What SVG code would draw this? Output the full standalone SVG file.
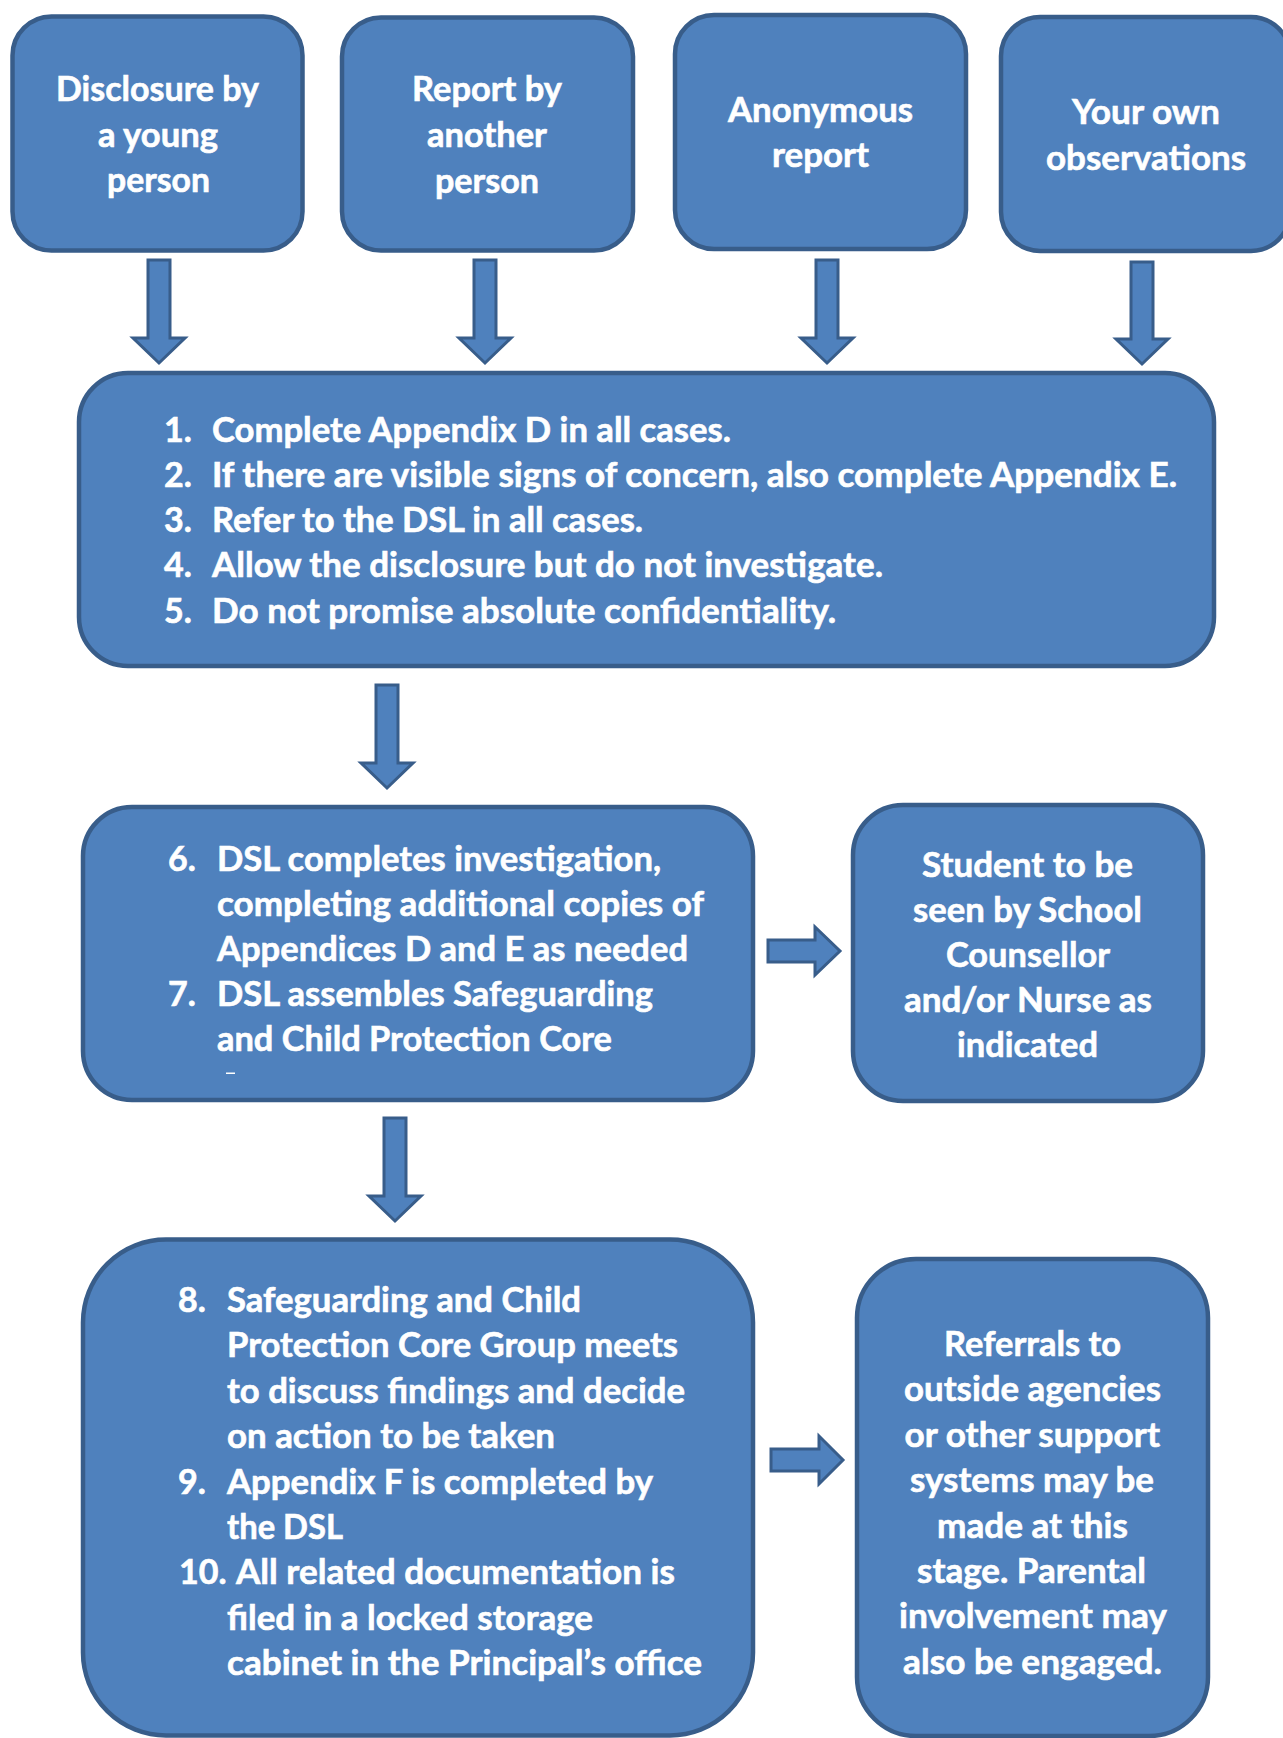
<svg xmlns="http://www.w3.org/2000/svg" width="1283" height="1738" viewBox="0 0 1283 1738">
<style>
.box{fill:#4F81BD;stroke:#385D8A;stroke-width:4.5}
.arr{fill:#4F81BD;stroke:#385D8A;stroke-width:3;stroke-linejoin:miter}
text{font-family:Lato,"Open Sans","Liberation Sans",sans-serif;font-weight:bold;font-size:34px;fill:#FFFFFF;stroke:#FFFFFF;stroke-width:0.6}
</style>
<rect width="1283" height="1738" fill="#FFFFFF"/>
<g id="connectors">
<path class="arr" d="M148,260 H170 V338 H185 L159,363 L133,338 H148 Z"/>
<path class="arr" d="M474,260 H496 V338 H511 L485,363 L459,338 H474 Z"/>
<path class="arr" d="M816,260 H838 V338 H853 L827,363 L801,338 H816 Z"/>
<path class="arr" d="M1131,262 H1153 V339 H1168 L1142,364 L1116,339 H1131 Z"/>
<path class="arr" d="M376,685 H398 V763 H413 L387,788 L361,763 H376 Z"/>
<path class="arr" d="M384,1118 H406 V1196 H421 L395,1221 L369,1196 H384 Z"/>
<path class="arr" d="M768,940 H815 V927 L840,951 L815,975 V962 H768 Z"/>
<path class="arr" d="M771,1449 H819 V1436 L843,1460 L819,1484 V1471 H771 Z"/>
</g>
<g id="n1">
<rect class="box" x="12.5" y="16.5" width="290" height="234" rx="39"/>
<text x="56" y="101" textLength="203" lengthAdjust="spacingAndGlyphs">Disclosure by</text>
<text x="98" y="147" textLength="120" lengthAdjust="spacingAndGlyphs">a young</text>
<text x="107" y="192" textLength="103" lengthAdjust="spacingAndGlyphs">person</text>
</g>
<g id="n2">
<rect class="box" x="342" y="17.5" width="291" height="233" rx="39"/>
<text x="412" y="101" textLength="150" lengthAdjust="spacingAndGlyphs">Report by</text>
<text x="427" y="147" textLength="120" lengthAdjust="spacingAndGlyphs">another</text>
<text x="435" y="193" textLength="104" lengthAdjust="spacingAndGlyphs">person</text>
</g>
<g id="n3">
<rect class="box" x="675" y="15" width="291" height="234" rx="39"/>
<text x="728" y="122" textLength="185" lengthAdjust="spacingAndGlyphs">Anonymous</text>
<text x="772" y="167" textLength="97" lengthAdjust="spacingAndGlyphs">report</text>
</g>
<g id="n4">
<rect class="box" x="1001" y="17" width="289" height="234" rx="39"/>
<text x="1072" y="124" textLength="148" lengthAdjust="spacingAndGlyphs">Your own</text>
<text x="1046" y="170" textLength="200" lengthAdjust="spacingAndGlyphs">observations</text>
</g>
<g id="n5">
<rect class="box" x="79" y="373" width="1135" height="293" rx="49"/>
<text x="164" y="442">1.</text>
<text x="212" y="442" textLength="519" lengthAdjust="spacingAndGlyphs">Complete Appendix D in all cases.</text>
<text x="164" y="487">2.</text>
<text x="212" y="487" textLength="965" lengthAdjust="spacingAndGlyphs">If there are visible signs of concern, also complete Appendix E.</text>
<text x="164" y="532">3.</text>
<text x="212" y="532" textLength="431" lengthAdjust="spacingAndGlyphs">Refer to the DSL in all cases.</text>
<text x="164" y="577">4.</text>
<text x="212" y="577" textLength="671" lengthAdjust="spacingAndGlyphs">Allow the disclosure but do not investigate.</text>
<text x="164" y="623">5.</text>
<text x="212" y="623" textLength="624" lengthAdjust="spacingAndGlyphs">Do not promise absolute confidentiality.</text>
</g>
<g id="n6">
<rect class="box" x="83" y="807" width="670" height="293" rx="49"/>
<text x="168" y="870.5">6.</text>
<text x="217" y="870.5" textLength="444" lengthAdjust="spacingAndGlyphs">DSL completes investigation,</text>
<text x="217" y="915.5" textLength="487" lengthAdjust="spacingAndGlyphs">completing additional copies of</text>
<text x="217" y="960.5" textLength="471" lengthAdjust="spacingAndGlyphs">Appendices D and E as needed</text>
<text x="168" y="1005.5">7.</text>
<text x="217" y="1005.5" textLength="436" lengthAdjust="spacingAndGlyphs">DSL assembles Safeguarding</text>
<text x="217" y="1050.5" textLength="395" lengthAdjust="spacingAndGlyphs">and Child Protection Core</text>
<rect x="226" y="1072.5" width="9" height="1.5" fill="#FFFFFF"/>
</g>
<g id="n7">
<rect class="box" x="853" y="805" width="350" height="296" rx="50"/>
<text x="922" y="877" textLength="211" lengthAdjust="spacingAndGlyphs">Student to be</text>
<text x="913" y="922" textLength="229" lengthAdjust="spacingAndGlyphs">seen by School</text>
<text x="946" y="967" textLength="164" lengthAdjust="spacingAndGlyphs">Counsellor</text>
<text x="904" y="1012" textLength="248" lengthAdjust="spacingAndGlyphs">and/or Nurse as</text>
<text x="957" y="1057" textLength="141" lengthAdjust="spacingAndGlyphs">indicated</text>
</g>
<g id="n8">
<rect class="box" x="83" y="1239.5" width="670" height="496" rx="83"/>
<text x="178" y="1312">8.</text>
<text x="227" y="1312" textLength="354" lengthAdjust="spacingAndGlyphs">Safeguarding and Child</text>
<text x="227" y="1357.4" textLength="451" lengthAdjust="spacingAndGlyphs">Protection Core Group meets</text>
<text x="227" y="1402.8" textLength="458" lengthAdjust="spacingAndGlyphs">to discuss findings and decide</text>
<text x="227" y="1448.2" textLength="328" lengthAdjust="spacingAndGlyphs">on action to be taken</text>
<text x="178" y="1493.6">9.</text>
<text x="227" y="1493.6" textLength="426" lengthAdjust="spacingAndGlyphs">Appendix F is completed by</text>
<text x="227" y="1539" textLength="116" lengthAdjust="spacingAndGlyphs">the DSL</text>
<text x="179" y="1584.4">10.</text>
<text x="236" y="1584.4" textLength="439" lengthAdjust="spacingAndGlyphs">All related documentation is</text>
<text x="227" y="1629.8" textLength="366" lengthAdjust="spacingAndGlyphs">filed in a locked storage</text>
<text x="227" y="1675.2" textLength="475" lengthAdjust="spacingAndGlyphs">cabinet in the Principal’s office</text>
</g>
<g id="n9">
<rect class="box" x="857" y="1259" width="351" height="477" rx="59"/>
<text x="944" y="1356" textLength="177" lengthAdjust="spacingAndGlyphs">Referrals to</text>
<text x="904" y="1401" textLength="257" lengthAdjust="spacingAndGlyphs">outside agencies</text>
<text x="904.5" y="1447" textLength="255.5" lengthAdjust="spacingAndGlyphs">or other support</text>
<text x="910" y="1492" textLength="244" lengthAdjust="spacingAndGlyphs">systems may be</text>
<text x="937" y="1538" textLength="191" lengthAdjust="spacingAndGlyphs">made at this</text>
<text x="917" y="1583" textLength="229" lengthAdjust="spacingAndGlyphs">stage. Parental</text>
<text x="899" y="1628" textLength="268" lengthAdjust="spacingAndGlyphs">involvement may</text>
<text x="903" y="1674" textLength="259" lengthAdjust="spacingAndGlyphs">also be engaged.</text>
</g>
</svg>
